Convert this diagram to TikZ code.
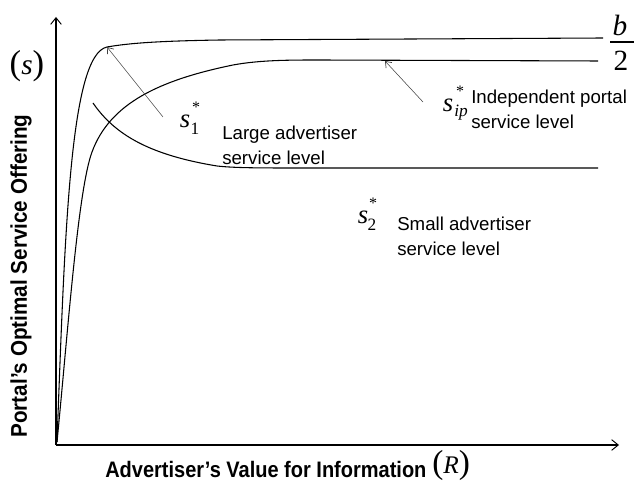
\documentclass[tikz,border=0pt]{standalone}
\usepackage{fontspec}
\setmainfont{Liberation Serif}
\setsansfont{Liberation Sans}
\usetikzlibrary{arrows.meta}
\begin{document}
\begin{tikzpicture}[x=0.75pt,y=-0.75pt,
  axis/.style={line width=0.8pt,-{Straight Barb[length=5pt,width=8pt,line width=0.7pt]}},
  curve/.style={line width=0.8pt},
  pointer/.style={line width=0.4pt,black!75,-{Straight Barb[length=4pt,width=6pt,line width=0.5pt]}},
  lbl/.style={font=\sffamily\fontsize{14}{19}\selectfont,align=left,inner sep=0pt,anchor=west},
  axlbl/.style={font=\sffamily\bfseries\fontsize{15.5}{18}\selectfont,inner sep=0pt},
  mvar/.style={font=\fontsize{20}{20}\selectfont\itshape,inner sep=0pt},
  msub/.style={font=\fontsize{13}{14}\selectfont,inner sep=0pt},
  mstar/.style={font=\fontsize{12}{13}\selectfont,inner sep=0pt}]
\useasboundingbox (0,0) rectangle (635,484);
% axes
\coordinate (O) at (56,445);
\coordinate (ytop) at (56,17);
\coordinate (xend) at (619,445);
\draw[axis] (O) -- (ytop);
\draw[axis] (O) -- (xend);
% large advertiser curve
\draw[curve] (57,442) .. controls (65,230) and (70,55) .. (107,47)
  .. controls (130,43) and (160,41) .. (220,40) -- (603,38);
% independent portal curve
\draw[curve] (57,442) .. controls (68,330) and (78,190) .. (92,152)
  .. controls (110,103) and (160,80) .. (233,65)
  .. controls (260,60) and (290,60) .. (320,60) -- (598,61);
% small advertiser curve
\draw[curve] (93,103) .. controls (115,135) and (150,155) .. (217,166)
  .. controls (235,168) and (260,168) .. (300,168) -- (598,168);
% pointers
\coordinate (p1s) at (163,117);
\coordinate (p1e) at (107,47);
\coordinate (p2s) at (423,102);
\coordinate (p2e) at (385,61);
\draw[pointer] (p1s) -- (p1e);
\draw[pointer] (p2s) -- (p2e);
% s1*
\node[mvar] (s1) at (185,121) {s};
\node[msub] (s1sub) at (195,129) {1};
\node[mstar] (s1st) at (196,107) {*};
\node[lbl] (large) at (222,145) {Large advertiser\\service level};
% sip*
\node[mvar] (sip) at (448,105) {s};
\node[msub,font=\fontsize{13}{14}\selectfont\itshape] (sipsub) at (461,113) {ip};
\node[mstar] (sipst) at (460,91) {*};
\node[lbl] (indep) at (471,109) {Independent portal\\service level};
% s2*
\node[mvar] (s2) at (363,217) {s};
\node[msub] (s2sub) at (372,225) {2};
\node[mstar] (s2st) at (373,203) {*};
\node[lbl] (small) at (397,236) {Small advertiser\\service level};
% b/2
\node[mvar,font=\fontsize{22}{22}\selectfont\itshape] (bb) at (620,25) {b};
\node[inner sep=0pt,font=\fontsize{22}{22}\selectfont] (two) at (621,61) {2};
\coordinate (barl) at (610,42);
\coordinate (barr) at (634,42);
\draw[line width=0.8pt] (barl) -- (barr);
% (s)
\node[inner sep=0pt] (sax) at (27,66) {{\fontsize{26}{26}\selectfont(}{\fontsize{22}{22}\selectfont\itshape s}{\fontsize{26}{26}\selectfont)}};
% axis labels
\node[axlbl,anchor=west,font=\sffamily\bfseries\fontsize{15}{18}\selectfont] (xl) at (105,469) {\scalebox{1}[1.12]{Advertiser’s Value for Information}};
\node[inner sep=0pt,anchor=west] (xr) at (432,465) {{\fontsize{25}{25}\selectfont(}{\fontsize{19}{19}\selectfont\itshape R}{\fontsize{25}{25}\selectfont)}};
\node[axlbl,rotate=90] (yl) at (21,276) {\scalebox{1}[1.1]{Portal’s Optimal Service Offering}};
\end{tikzpicture}
\end{document}
